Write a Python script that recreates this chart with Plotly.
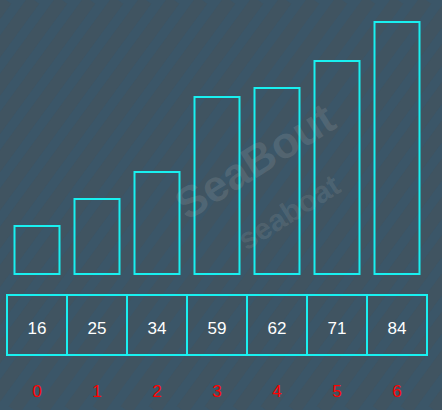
import plotly.graph_objects as go

categories = [0, 1, 2, 3, 4, 5, 6]
values = [16, 25, 34, 59, 62, 71, 84]
index_labels = ["0", "1", "2", "3", "4", "5", "6"]

W, H = 442, 410
CYAN = "#19f0f0"
BG = "#3b5668"

# y mapping: value 0 at 274px, 3 px per unit
y_top = 274 / 3.0
y_bot = -(H - 274) / 3.0
# x mapping: category i centred at 37 + 60*i px
x_left = -37 / 60.0
x_right = (W - 37) / 60.0

box_base = -27
box_height = 20
text_level = -18.5
label_level = -39.67

fig = go.Figure()

# value bars (outline only)
fig.add_trace(go.Bar(
    x=categories, y=values, width=0.75,
    marker=dict(color="rgba(0,0,0,0)", line=dict(color=CYAN, width=2)),
    hoverinfo="skip", showlegend=False,
))

# array cells below
fig.add_trace(go.Bar(
    x=categories, y=[box_height] * len(categories), base=[box_base] * len(categories), width=1.0,
    marker=dict(color="rgba(0,0,0,0)", line=dict(color=CYAN, width=2)),
    hoverinfo="skip", showlegend=False,
))

# values in cells
fig.add_trace(go.Scatter(
    x=categories, y=[text_level] * len(categories), mode="text",
    text=[str(v) for v in values],
    textfont=dict(color="white", size=17, family="Liberation Sans, Arial, sans-serif"),
    hoverinfo="skip", showlegend=False,
))

# red index labels
fig.add_trace(go.Scatter(
    x=categories, y=[label_level] * len(categories), mode="text",
    text=index_labels,
    textfont=dict(color="#ff0000", size=17, family="Liberation Sans, Arial, sans-serif"),
    hoverinfo="skip", showlegend=False,
))

# diagonal background stripes
shapes = []
period = 28
dx = 300
x = -50
while x < W + dx + 50:
    shapes.append(dict(
        type="line", xref="paper", yref="paper",
        x0=x / W, y0=1, x1=(x - dx) / W, y1=0,
        line=dict(color="rgba(95,72,62,0.16)", width=13),
        layer="below",
    ))
    x += period

annotations = [
    dict(text="<b>SeaBout</b>", x=255 / W, y=1 - 160 / H, xref="paper", yref="paper",
         showarrow=False, textangle=-32,
         font=dict(size=44, color="rgba(190,190,190,0.16)", family="Liberation Sans, Arial, sans-serif")),
    dict(text="<b>seaboat</b>", x=288 / W, y=1 - 212 / H, xref="paper", yref="paper",
         showarrow=False, textangle=-32,
         font=dict(size=30, color="rgba(190,190,190,0.15)", family="Liberation Sans, Arial, sans-serif")),
]

fig.update_layout(
    width=W, height=H,
    margin=dict(l=0, r=0, t=0, b=0),
    paper_bgcolor=BG, plot_bgcolor="rgba(0,0,0,0)",
    shapes=shapes, annotations=annotations,
    barmode="overlay",
    xaxis=dict(range=[x_left, x_right], domain=[0, 1], visible=False, fixedrange=True),
    yaxis=dict(range=[y_bot, y_top], domain=[0, 1], visible=False, fixedrange=True),
)

fig.write_html("out.html")
